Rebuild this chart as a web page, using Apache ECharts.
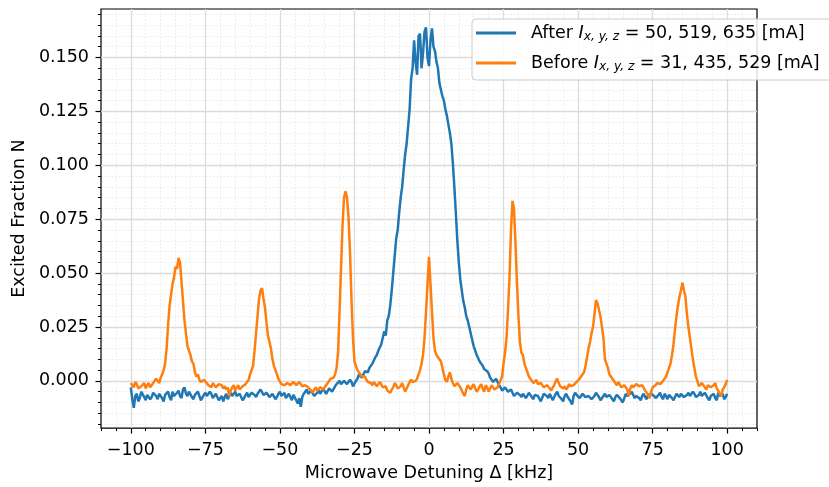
<!DOCTYPE html>
<html>
<head>
<meta charset="utf-8">
<script src="https://cdn.jsdelivr.net/npm/echarts@6/dist/echarts.min.js"></script>
<style>
  html, body { margin: 0; padding: 0; background: #fff; }
  #chart { width: 829px; height: 487px; }
</style>
</head>
<body>
<div id="chart"></div>
<script>
// Microwave detuning scan, 0.5 kHz steps from -100 to +100 kHz
const detuning = [];
for (let i = 0; i <= 400; i++) detuning.push(-100 + i * 0.5);

// Excited fraction after the coil currents were re-tuned (one row = 5 kHz)
const afterFraction = [
  -0.0030, -0.0085, -0.0125, -0.0070, -0.0060, -0.0095, -0.0080, -0.0050, -0.0055, -0.0075,
  -0.0090, -0.0065, -0.0060, -0.0085, -0.0075, -0.0055, -0.0050, -0.0070, -0.0085, -0.0060,
  -0.0070, -0.0080, -0.0095, -0.0065, -0.0060, -0.0050, -0.0075, -0.0090, -0.0050, -0.0070,
  -0.0065, -0.0055, -0.0045, -0.0070, -0.0080, -0.0040, -0.0030, -0.0060, -0.0070, -0.0050,
  -0.0055, -0.0075, -0.0085, -0.0065, -0.0060, -0.0050, -0.0070, -0.0090, -0.0095, -0.0065,
  -0.0055, -0.0070, -0.0075, -0.0050, -0.0060, -0.0080, -0.0085, -0.0060, -0.0065, -0.0090,
  -0.0080, -0.0070, -0.0095, -0.0075, -0.0060, -0.0085, -0.0080, -0.0055, -0.0070, -0.0060,
  -0.0050, -0.0070, -0.0075, -0.0060, -0.0060, -0.0090, -0.0080, -0.0065, -0.0055, -0.0075,
  -0.0070, -0.0055, -0.0050, -0.0065, -0.0075, -0.0060, -0.0060, -0.0040, -0.0045, -0.0065,
  -0.0070, -0.0055, -0.0060, -0.0075, -0.0080, -0.0060, -0.0065, -0.0085, -0.0075, -0.0060,
  -0.0050, -0.0070, -0.0065, -0.0055, -0.0080, -0.0070, -0.0060, -0.0075, -0.0090, -0.0065,
  -0.0070, -0.0090, -0.0105, -0.0080, -0.0120, -0.0075, -0.0060, -0.0050, -0.0040, -0.0060,
  -0.0065, -0.0045, -0.0050, -0.0070, -0.0075, -0.0055, -0.0045, -0.0060, -0.0060, -0.0035,
  -0.0040, -0.0060, -0.0055, -0.0035, -0.0030, -0.0050, -0.0045, -0.0025, -0.0015, -0.0010,
   0.0000, -0.0015, -0.0020,  0.0000,  0.0005, -0.0015, -0.0010,  0.0005, -0.0005, -0.0025,
  -0.0020,  0.0000,  0.0010,  0.0030,  0.0035,  0.0015,  0.0020,  0.0045,  0.0050,  0.0040,
   0.0060,  0.0055,  0.0080,  0.0095,  0.0110,  0.0120,  0.0140,  0.0155,  0.0170,  0.0200,
   0.0230,  0.0210,  0.0280,  0.0300,  0.0350,  0.0420,  0.0500,  0.0580,  0.0660,  0.0700,
   0.0780,  0.0850,  0.0900,  0.0980,  0.1050,  0.1100,  0.1180,  0.1260,  0.1400,  0.1450,
   0.1580,  0.1480,  0.1420,  0.1600,  0.1610,  0.1450,  0.1520,  0.1620,  0.1640,  0.1500,
   0.1460,  0.1580,  0.1635,  0.1550,  0.1530,  0.1480,  0.1450,  0.1380,  0.1350,  0.1320,
   0.1300,  0.1260,  0.1230,  0.1190,  0.1150,  0.1100,  0.1010,  0.0900,  0.0780,  0.0650,
   0.0550,  0.0470,  0.0420,  0.0370,  0.0340,  0.0300,  0.0280,  0.0250,  0.0220,  0.0190,
   0.0160,  0.0140,  0.0120,  0.0105,  0.0090,  0.0080,  0.0070,  0.0055,  0.0050,  0.0045,
   0.0035,  0.0015,  0.0010, -0.0005, -0.0010,  0.0010,  0.0005, -0.0020, -0.0030, -0.0045,
  -0.0040, -0.0030, -0.0025, -0.0050, -0.0055, -0.0040, -0.0045, -0.0070, -0.0065, -0.0055,
  -0.0050, -0.0065, -0.0075, -0.0060, -0.0060, -0.0080, -0.0080, -0.0055, -0.0065, -0.0075,
  -0.0085, -0.0065, -0.0060, -0.0070, -0.0075, -0.0095, -0.0090, -0.0060, -0.0055, -0.0070,
  -0.0080, -0.0060, -0.0065, -0.0090, -0.0085, -0.0060, -0.0050, -0.0070, -0.0075, -0.0085,
  -0.0095, -0.0070, -0.0060, -0.0075, -0.0080, -0.0095, -0.0110, -0.0070, -0.0055, -0.0065,
  -0.0070, -0.0080, -0.0085, -0.0060, -0.0060, -0.0075, -0.0080, -0.0070, -0.0065, -0.0085,
  -0.0090, -0.0070, -0.0055, -0.0065, -0.0075, -0.0090, -0.0085, -0.0070, -0.0060, -0.0075,
  -0.0080, -0.0065, -0.0070, -0.0085, -0.0095, -0.0075, -0.0065, -0.0060, -0.0080, -0.0090,
  -0.0100, -0.0080, -0.0060, -0.0070, -0.0075, -0.0060, -0.0050, -0.0065, -0.0080, -0.0070,
  -0.0065, -0.0080, -0.0090, -0.0070, -0.0060, -0.0075, -0.0085, -0.0065, -0.0070, -0.0060,
  -0.0055, -0.0070, -0.0080, -0.0075, -0.0065, -0.0055, -0.0075, -0.0085, -0.0060, -0.0070,
  -0.0085, -0.0065, -0.0070, -0.0080, -0.0090, -0.0075, -0.0060, -0.0065, -0.0075, -0.0060,
  -0.0065, -0.0075, -0.0080, -0.0065, -0.0055, -0.0070, -0.0070, -0.0050, -0.0060, -0.0075,
  -0.0080, -0.0065, -0.0050, -0.0070, -0.0075, -0.0055, -0.0060, -0.0080, -0.0090, -0.0070,
  -0.0065, -0.0060, -0.0080, -0.0090, -0.0055, -0.0070, -0.0070, -0.0060, -0.0085, -0.0075,
  -0.0060
];

// Excited fraction before re-tuning, with the Zeeman-split sidebands (one row = 5 kHz)
const beforeFraction = [
  -0.0010, -0.0020, -0.0030, -0.0005, -0.0015, -0.0035, -0.0040, -0.0025, -0.0020, -0.0010,
  -0.0035, -0.0020, -0.0010, -0.0030, -0.0025, -0.0010, -0.0005,  0.0010,  0.0000, -0.0010,
   0.0015,  0.0030,  0.0050,  0.0080,  0.0150,  0.0260,  0.0350,  0.0400,  0.0450,  0.0480,
   0.0530,  0.0520,  0.0570,  0.0550,  0.0460,  0.0370,  0.0280,  0.0220,  0.0160,  0.0140,
   0.0120,  0.0090,  0.0080,  0.0040,  0.0020,  0.0030,  0.0005, -0.0005, -0.0010,  0.0005,
   0.0010, -0.0010, -0.0020, -0.0015, -0.0030, -0.0010, -0.0010, -0.0030, -0.0025, -0.0015,
  -0.0010, -0.0020, -0.0035, -0.0025, -0.0040, -0.0030, -0.0070, -0.0045, -0.0030, -0.0020,
  -0.0045, -0.0030, -0.0020, -0.0040, -0.0040, -0.0025, -0.0025, -0.0015, -0.0010,  0.0005,
   0.0030,  0.0050,  0.0070,  0.0140,  0.0220,  0.0300,  0.0380,  0.0420,  0.0430,  0.0380,
   0.0340,  0.0270,  0.0210,  0.0180,  0.0150,  0.0100,  0.0070,  0.0050,  0.0030,  0.0010,
   0.0005, -0.0015, -0.0010, -0.0020, -0.0025, -0.0010, -0.0005, -0.0020, -0.0020, -0.0005,
   0.0000, -0.0020, -0.0015, -0.0005, -0.0010, -0.0025, -0.0030, -0.0020, -0.0015, -0.0030,
  -0.0035, -0.0045, -0.0055, -0.0040, -0.0030, -0.0045, -0.0045, -0.0030, -0.0025, -0.0040,
  -0.0035, -0.0020, -0.0015,  0.0000,  0.0010,  0.0005,  0.0015,  0.0030,  0.0060,  0.0130,
   0.0320,  0.0520,  0.0720,  0.0850,  0.0880,  0.0850,  0.0760,  0.0600,  0.0380,  0.0200,
   0.0090,  0.0070,  0.0050,  0.0055,  0.0030,  0.0020,  0.0015,  0.0020,  0.0005, -0.0005,
   0.0000, -0.0010, -0.0020, -0.0005, -0.0010, -0.0025, -0.0015, -0.0005, -0.0010, -0.0030,
  -0.0035, -0.0025, -0.0045, -0.0050, -0.0055, -0.0040, -0.0030, -0.0010, -0.0020, -0.0035,
  -0.0040, -0.0025, -0.0010, -0.0030, -0.0050, -0.0035, -0.0020, -0.0005,  0.0005, -0.0005,
  -0.0010,  0.0000,  0.0010,  0.0030,  0.0050,  0.0080,  0.0120,  0.0200,  0.0320,  0.0450,
   0.0575,  0.0450,  0.0320,  0.0200,  0.0140,  0.0120,  0.0110,  0.0100,  0.0090,  0.0060,
   0.0030,  0.0005, -0.0005,  0.0020,  0.0040,  0.0010, -0.0010, -0.0025, -0.0030, -0.0010,
  -0.0015, -0.0030, -0.0045, -0.0060, -0.0070, -0.0040, -0.0020, -0.0030, -0.0040, -0.0025,
  -0.0015, -0.0035, -0.0050, -0.0040, -0.0025, -0.0015, -0.0035, -0.0050, -0.0020, -0.0030,
  -0.0050, -0.0035, -0.0020, -0.0030, -0.0040, -0.0045, -0.0030, -0.0015, -0.0010,  0.0020,
   0.0080,  0.0130,  0.0200,  0.0330,  0.0480,  0.0700,  0.0835,  0.0800,  0.0640,  0.0450,
   0.0300,  0.0180,  0.0130,  0.0120,  0.0080,  0.0060,  0.0040,  0.0020,  0.0010,  0.0000,
  -0.0010, -0.0005,  0.0005, -0.0015, -0.0020, -0.0010, -0.0015, -0.0030, -0.0030, -0.0020,
  -0.0020, -0.0035, -0.0045, -0.0030, -0.0020,  0.0000,  0.0010, -0.0010, -0.0025, -0.0030,
  -0.0035, -0.0025, -0.0040, -0.0030, -0.0015, -0.0025, -0.0030, -0.0020, -0.0020, -0.0005,
  -0.0010,  0.0010,  0.0020,  0.0025,  0.0040,  0.0070,  0.0110,  0.0150,  0.0180,  0.0220,
   0.0250,  0.0310,  0.0375,  0.0360,  0.0330,  0.0300,  0.0250,  0.0200,  0.0100,  0.0080,
   0.0060,  0.0030,  0.0020,  0.0010,  0.0005, -0.0010, -0.0020, -0.0005, -0.0010, -0.0030,
  -0.0035, -0.0020, -0.0015, -0.0040, -0.0070, -0.0035, -0.0020, -0.0030, -0.0035, -0.0015,
  -0.0010, -0.0025, -0.0030, -0.0020, -0.0025, -0.0045, -0.0050, -0.0065, -0.0080, -0.0050,
  -0.0030, -0.0025, -0.0020, -0.0010, -0.0005, -0.0015, -0.0010,  0.0000,  0.0010,  0.0020,
   0.0040,  0.0060,  0.0080,  0.0120,  0.0170,  0.0240,  0.0300,  0.0350,  0.0390,  0.0420,
   0.0455,  0.0420,  0.0390,  0.0310,  0.0250,  0.0200,  0.0150,  0.0100,  0.0060,  0.0020,
   0.0000, -0.0025, -0.0025, -0.0010, -0.0010, -0.0030, -0.0040, -0.0020, -0.0015, -0.0030,
  -0.0030, -0.0020, -0.0010, -0.0035, -0.0045, -0.0060, -0.0070, -0.0040, -0.0030, -0.0015,
   0.0005
];

// Coil currents quoted in the legend
const seriesNames = ['After', 'Before'];
const coilCurrents = { After: '50, 519, 635', Before: '31, 435, 529' };
const seriesColors = { After: '#1f77b4', Before: '#ff7f0e' };

// Tick positions
const xTicks = [-100, -75, -50, -25, 0, 25, 50, 75, 100];
const yTicks = [0.000, 0.025, 0.050, 0.075, 0.100, 0.125, 0.150];
const xRange = [-110, 110];
const yRange = [-0.0219, 0.1725];

const xMinor = [];
for (let i = -22; i <= 22; i++) if (i % 5 !== 0) xMinor.push(i * 5);
const yMinor = [];
for (let i = -4; i <= 34; i++) if (i % 5 !== 0) yMinor.push(+(i * 0.005).toFixed(3));

const FONT = 'DejaVu Sans';
const FS = 17.5;
const toMinus = s => String(s).replace('-', '\u2212');

const chart = echarts.init(document.getElementById('chart'), null, { renderer: 'canvas' });

const majorAxis = (ticks, range, fmt) => ({
  type: 'value', min: range[0], max: range[1],
  axisLine: { show: false, onZero: false },
  axisTick: { show: true, customValues: ticks, length: 5.5, lineStyle: { color: '#000', width: 1.2 } },
  axisLabel: { customValues: ticks, formatter: fmt, fontFamily: FONT, fontSize: FS, color: '#000' },
  splitLine: { show: true, lineStyle: { color: '#dcdcdc', width: 1.3 } }
});
const minorAxis = (ticks, range) => ({
  type: 'value', min: range[0], max: range[1], z: -1,
  axisLine: { show: false, onZero: false },
  axisTick: { show: true, customValues: ticks, length: 3, lineStyle: { color: '#000', width: 1 } },
  axisLabel: { show: false },
  splitLine: { show: true, lineStyle: { color: '#e6e6e6', width: 0.8, type: [1.5, 2] } }
});

const xMain = majorAxis(xTicks, xRange, v => toMinus(v));
Object.assign(xMain, {
  position: 'bottom',
  name: 'Microwave Detuning \u0394 [kHz]', nameLocation: 'middle', nameGap: 30,
  nameTextStyle: { fontFamily: FONT, fontSize: FS, color: '#000' }
});
xMain.axisLabel.margin = 13;
const xSub = Object.assign(minorAxis(xMinor, xRange), { position: 'bottom' });

const yMain = majorAxis(yTicks, yRange, v => v.toFixed(3));
Object.assign(yMain, {
  position: 'left',
  name: 'Excited Fraction N', nameLocation: 'middle', nameGap: 72,
  nameTextStyle: { fontFamily: FONT, fontSize: FS, color: '#000' }
});
yMain.axisLabel.margin = 12;
const ySub = Object.assign(minorAxis(yMinor, yRange), { position: 'left' });

const textBase = { fontFamily: FONT, fontSize: FS, color: '#000', lineHeight: 20 };

chart.setOption({
  animation: false,
  backgroundColor: '#ffffff',
  grid: { left: 101, right: 72, top: 9, bottom: 58, show: true, borderColor: '#000', borderWidth: 1.2, backgroundColor: 'transparent' },
  xAxis: [xMain, xSub],
  yAxis: [yMain, ySub],
  legend: {
    orient: 'vertical', left: 472, top: 19,
    padding: [4, 24, 7, 4], itemWidth: 40, itemHeight: 3, itemGap: 10,
    icon: 'rect',
    backgroundColor: 'rgba(255,255,255,0.85)', borderColor: '#cccccc', borderWidth: 1, borderRadius: 4,
    data: seriesNames,
    formatter: name => `{pad|}{t|${name} }{i|I}{s|x, y, z}{t| = ${coilCurrents[name]} [mA]}`,
    textStyle: Object.assign({}, textBase, {
      rich: {
        pad: { width: 10 },
        t: Object.assign({}, textBase),
        i: Object.assign({}, textBase, { fontStyle: 'italic' }),
        s: { fontFamily: FONT, fontSize: 12.2, fontStyle: 'italic', color: '#000', lineHeight: 12, verticalAlign: 'bottom' }
      }
    })
  },
  series: seriesNames.map((name, k) => ({
    name, type: 'line',
    data: detuning.map((x, i) => [x, (name === 'After' ? afterFraction : beforeFraction)[i]]),
    symbol: 'none', showSymbol: false,
    xAxisIndex: 0, yAxisIndex: 0,
    lineStyle: { width: 2.5, color: seriesColors[name] },
    itemStyle: { color: seriesColors[name] },
    z: 3 + k
  }))
});
</script>
</body>
</html>
